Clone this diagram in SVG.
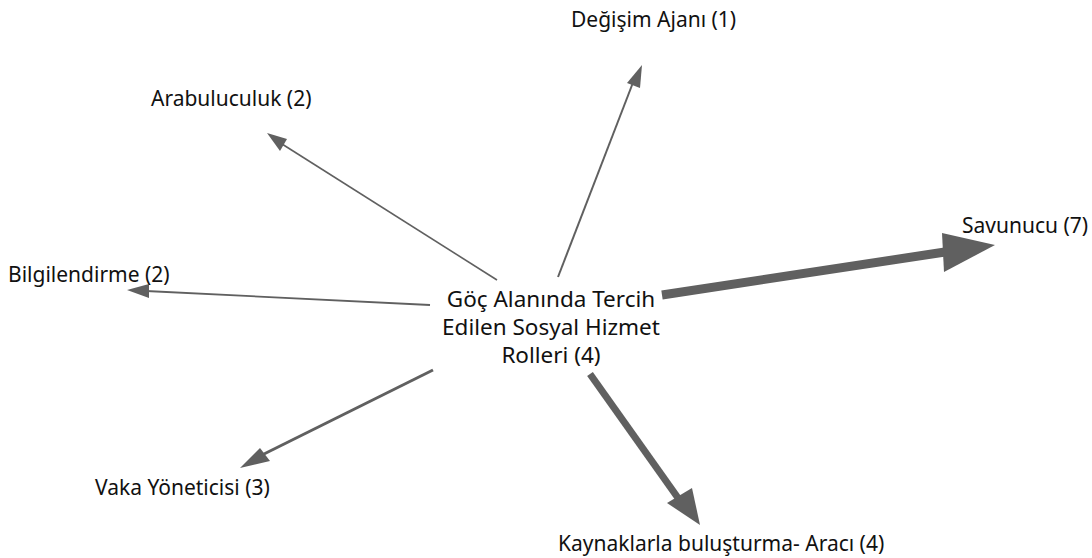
<svg xmlns="http://www.w3.org/2000/svg" width="1092" height="558" viewBox="0 0 1092 558">
<style>
text{font-family:"Noto Sans","Open Sans","Liberation Sans",sans-serif;font-size:21px;fill:#111}
.c{font-size:22.5px}
.e line{stroke:#606060;stroke-linecap:butt}
.e polygon{fill:#606060}
</style>
<rect width="1092" height="558" fill="#fff"/>
<g id="connectors" class="e">
<line x1="558" y1="277" x2="634" y2="80" stroke-width="2"/>
<polygon points="642,65 627,83 640,88"/>
<line x1="497" y1="280" x2="282" y2="144" stroke-width="1.6"/>
<polygon points="267,133 280,151 287,139"/>
<line x1="430" y1="305" x2="146" y2="291" stroke-width="1.8"/>
<polygon points="127,290 149,284 149,298"/>
<line x1="662" y1="295" x2="945" y2="252" stroke-width="9"/>
<polygon points="995,245 942,233 944,272"/>
<line x1="590" y1="374" x2="683" y2="505" stroke-width="7"/>
<polygon points="700,525 667,503 692,488"/>
<line x1="433" y1="370" x2="262" y2="455" stroke-width="3"/>
<polygon points="240,468 260,448 270,461"/>
</g>
<g id="center"><text class="c" text-anchor="middle"><tspan x="551" y="307">Göç Alanında Tercih</tspan><tspan x="551" y="335">Edilen Sosyal Hizmet</tspan><tspan x="551" y="363">Rolleri (4)</tspan></text></g>
<g id="degisim"><text x="571" y="27">Değişim Ajanı (1)</text></g>
<g id="arabuluculuk"><text x="151" y="106">Arabuluculuk (2)</text></g>
<g id="bilgilendirme"><text x="8" y="282">Bilgilendirme (2)</text></g>
<g id="savunucu"><text x="962" y="233">Savunucu (7)</text></g>
<g id="vaka"><text x="95" y="495">Vaka Yöneticisi (3)</text></g>
<g id="kaynaklarla"><text x="558" y="551">Kaynaklarla buluşturma- Aracı (4)</text></g>
</svg>
